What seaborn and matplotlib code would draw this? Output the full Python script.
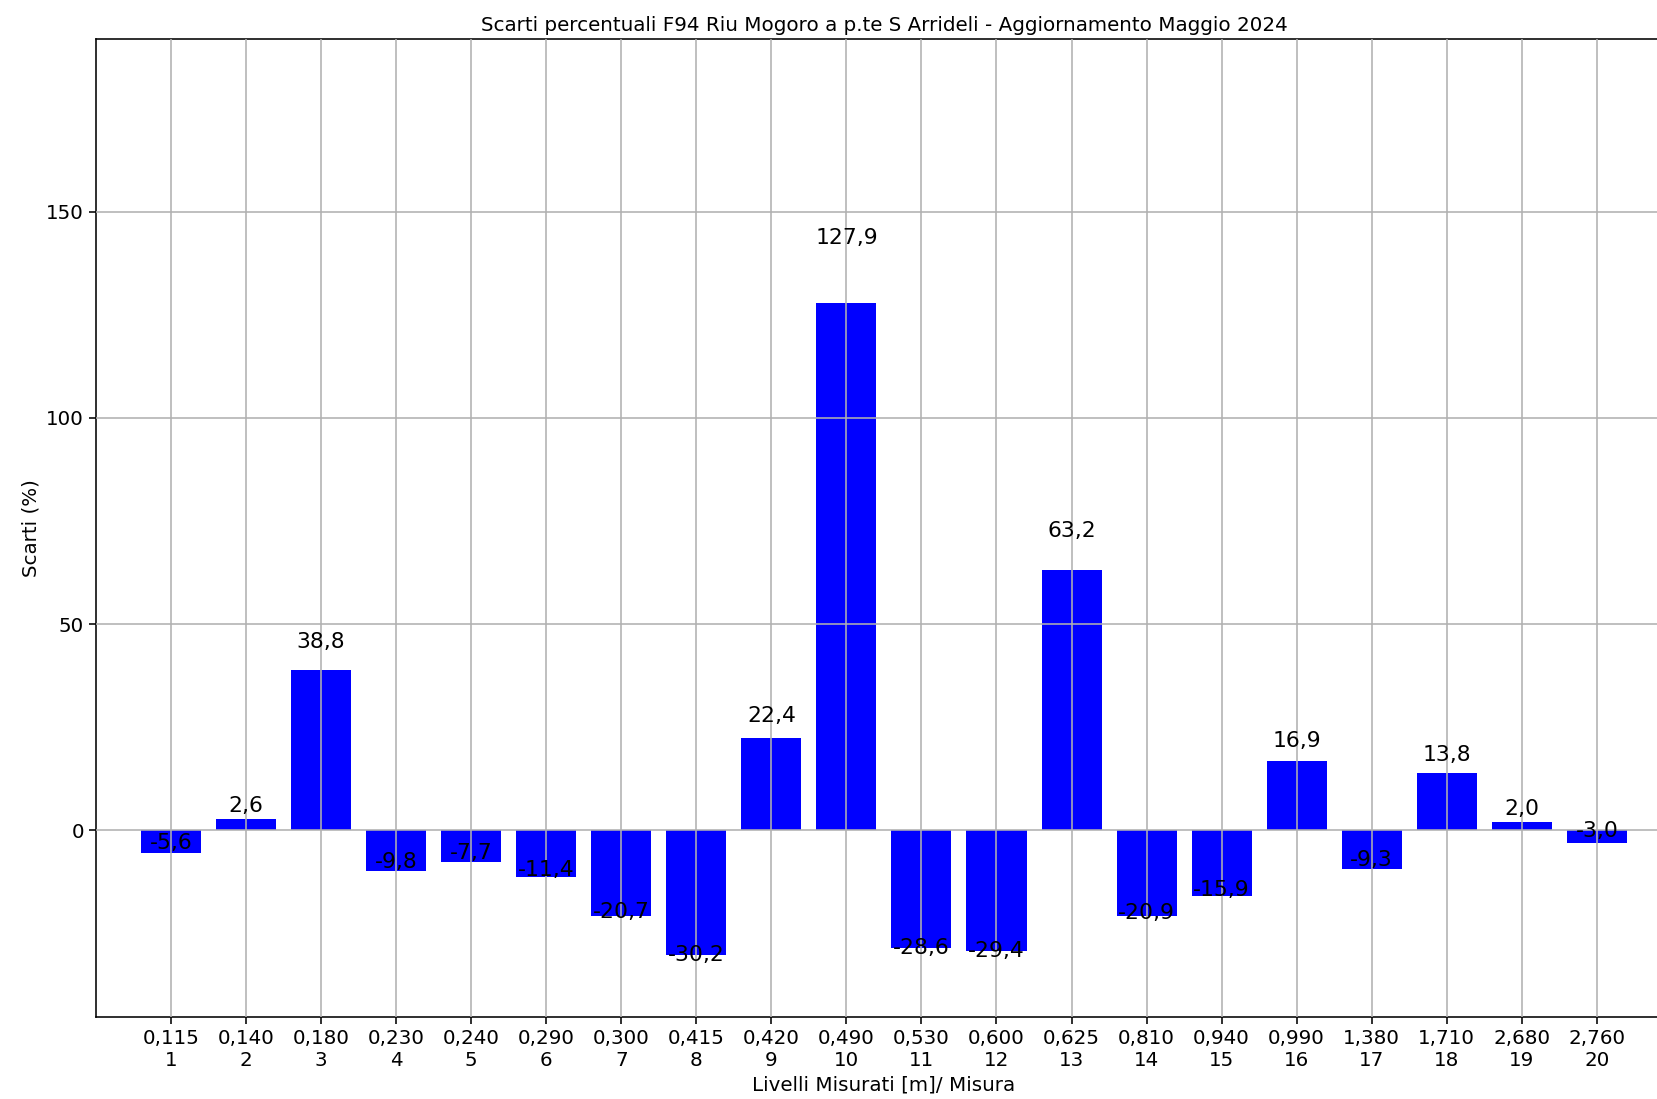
import numpy as np
import pandas as pd
import seaborn as sns
import matplotlib
matplotlib.use("Agg")
import matplotlib.pyplot as plt

#%% data
livelli = [0.115, 0.140, 0.180, 0.230, 0.240, 0.290, 0.300, 0.415, 0.420, 0.490,
           0.530, 0.600, 0.625, 0.810, 0.940, 0.990, 1.380, 1.710, 2.680, 2.760]
misura = list(range(1, 21))
scarti = [-5.6, 2.6, 38.8, -9.8, -7.7, -11.4, -20.7, -30.2, 22.4, 127.9,
          -28.6, -29.4, 63.2, -20.9, -15.9, 16.9, -9.3, 13.8, 2.0, -3.0]

title = "Scarti percentuali F94 Riu Mogoro a p.te S Arrideli - Aggiornamento Maggio 2024"

labels = [f"{l:.3f}".replace(".", ",") + f"\n{m}" for l, m in zip(livelli, misura)]
df = pd.DataFrame({"label": labels, "scarto": scarti})

#%% figure
fs = 1.43  # scale from original dpi
plt.rcParams.update({
    "font.family": "DejaVu Sans",
    "axes.linewidth": 0.8 * fs,
    "xtick.major.width": 0.8 * fs,
    "ytick.major.width": 0.8 * fs,
    "xtick.major.size": 3.5 * fs,
    "ytick.major.size": 3.5 * fs,
    "grid.linewidth": 0.8 * fs,
    "grid.color": "#b0b0b0",
})

fig = plt.figure(figsize=(16.57, 10.99), dpi=100)
ax = fig.add_axes([0.0579, 0.0746, 1.009 - 0.0579, 0.9645 - 0.0746])

sns.barplot(data=df, x="label", y="scarto", order=labels,
            color="blue", saturation=1, width=0.8, errorbar=None, ax=ax)

# value labels
for i, v in enumerate(scarti):
    ax.text(i, v * 1.1 + 3, f"{v:.1f}".replace(".", ","),
            ha="center", va="center", fontsize=11 * fs)

ax.set_xlim(-1, len(scarti))
ax.set_ylim(min(scarti) * 1.5, max(scarti) * 1.5)
ax.grid(True)
ax.set_axisbelow(False)
ax.tick_params(labelsize=10 * fs)
ax.set_xlabel("Livelli Misurati [m]/ Misura", fontsize=10 * fs)
ax.set_ylabel("Scarti (%)", fontsize=10 * fs)
ax.set_title(title, fontsize=10 * fs)

fig.savefig("out.png", dpi=100)
